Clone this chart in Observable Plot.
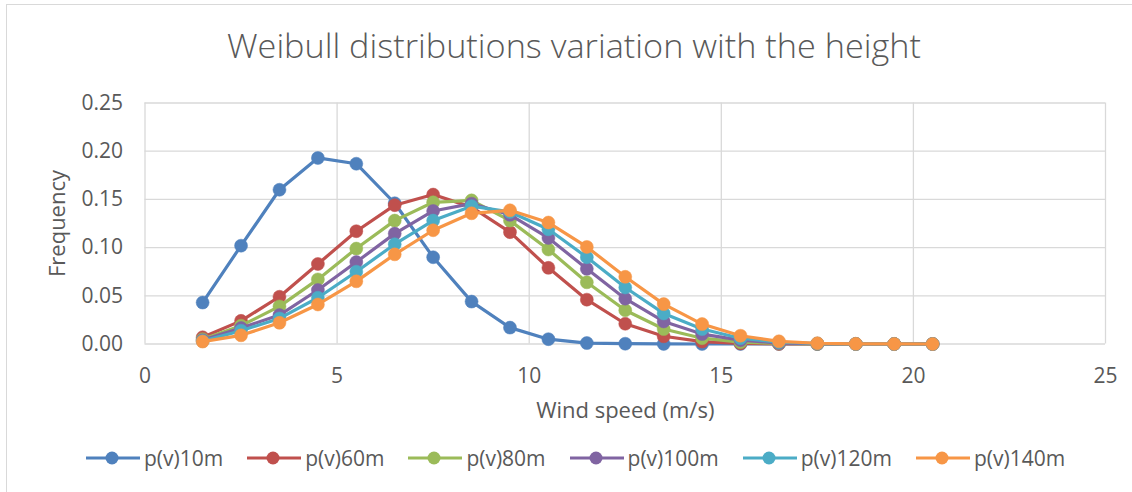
<!DOCTYPE html>
<html>
<head>
<meta charset="utf-8">
<script src="https://cdn.jsdelivr.net/npm/d3@7"></script>
<script src="https://cdn.jsdelivr.net/npm/@observablehq/plot@0.6"></script>
<style>
  html, body { margin: 0; padding: 0; background: #fff; }
  body { width: 1132px; height: 492px; position: relative; overflow: hidden; font-family: "Open Sans", sans-serif; color: #595959; }
  #border { position: absolute; left: 6px; top: 4px; right: -2px; bottom: -2px; border-left: 1px solid #d9d9d9; border-top: 1px solid #d9d9d9; }
  #title { position: absolute; left: 227px; top: 29px; font-size: 33px; font-weight: 300; line-height: 1; white-space: nowrap; transform-origin: 0 0; }
  #chart { position: absolute; left: 0; top: 80px; }
  #legend { position: absolute; left: 86px; top: 446px; height: 24px; display: flex; align-items: center; font-size: 21px; white-space: nowrap; }
  .item { display: flex; align-items: center; margin-right: 24px; }
  .item svg { display: block; margin-right: 4px; }
  .item span { line-height: 24px; }
</style>
</head>
<body>
<div id="border"></div>
<div id="title">Weibull distributions variation with the height</div>
<div id="chart"></div>
<div id="legend"></div>
<script>
const speeds = [1.5, 2.5, 3.5, 4.5, 5.5, 6.5, 7.5, 8.5, 9.5, 10.5, 11.5, 12.5, 13.5, 14.5, 15.5, 16.5, 17.5, 18.5, 19.5, 20.5];
const p10m  = [0.043, 0.102, 0.160, 0.193, 0.187, 0.146, 0.090, 0.044, 0.017, 0.005, 0.001, 0.0003, 0.0001, 0, 0, 0, 0, 0, 0, 0];
const p60m  = [0.007, 0.024, 0.049, 0.083, 0.117, 0.144, 0.155, 0.142, 0.116, 0.079, 0.046, 0.021, 0.008, 0.0025, 0.0006, 0.0001, 0, 0, 0, 0];
const p80m  = [0.005, 0.019, 0.039, 0.067, 0.099, 0.128, 0.147, 0.149, 0.128, 0.098, 0.064, 0.035, 0.0155, 0.006, 0.0019, 0.0005, 0.0001, 0, 0, 0];
const p100m = [0.004, 0.0166, 0.030, 0.056, 0.085, 0.1145, 0.138, 0.1456, 0.134, 0.110, 0.078, 0.047, 0.0234, 0.0103, 0.004, 0.001, 0.0003, 0.0001, 0, 0];
const p120m = [0.003, 0.0138, 0.0265, 0.048, 0.075, 0.1035, 0.128, 0.143, 0.137, 0.119, 0.090, 0.0586, 0.0317, 0.0155, 0.006, 0.0018, 0.0005, 0.0001, 0, 0];
const p140m = [0.0025, 0.009, 0.022, 0.041, 0.065, 0.093, 0.118, 0.1356, 0.1387, 0.126, 0.1007, 0.0697, 0.0414, 0.0207, 0.0086, 0.0028, 0.0008, 0.0002, 0.0001, 0];

const seriesNames = ["p(v)10m", "p(v)60m", "p(v)80m", "p(v)100m", "p(v)120m", "p(v)140m"];
const seriesValues = [p10m, p60m, p80m, p100m, p120m, p140m];
const seriesColors = ["#4F81BD", "#C0504D", "#9BBB59", "#8064A2", "#4BACC6", "#F79646"];

const xTicks = [0, 5, 10, 15, 20, 25];
const yTicks = [0, 0.05, 0.10, 0.15, 0.20, 0.25];
const titleText = "Weibull distributions variation with the height";
const xLabel = "Wind speed (m/s)";
const yLabel = "Frequency";

const rows = seriesNames.map((name, k) => speeds.map((s, i) => ({speed: s, value: seriesValues[k][i], series: name})));

const gridColor = "#d9d9d9";
const seriesMarks = [];
rows.forEach((data, k) => {
  seriesMarks.push(Plot.line(data, {x: "speed", y: "value", stroke: seriesColors[k], strokeWidth: 3.2, strokeLinejoin: "round", strokeLinecap: "round"}));
  seriesMarks.push(Plot.dot(data, {x: "speed", y: "value", r: 6.5, fill: seriesColors[k], stroke: seriesColors[k], strokeWidth: 0.5}));
});

const chart = Plot.plot({
  width: 1132,
  height: 350,
  marginTop: 22.5,
  marginBottom: 86.5,
  marginLeft: 144.5,
  marginRight: 27,
  style: {fontFamily: "Open Sans, sans-serif", fontSize: "21px", color: "#595959", background: "transparent", overflow: "visible"},
  x: {domain: [0, 25]},
  y: {domain: [0, 0.25]},
  marks: [
    Plot.gridY(yTicks, {stroke: gridColor, strokeOpacity: 1, strokeWidth: 1.3}),
    Plot.gridX(xTicks, {stroke: gridColor, strokeOpacity: 1, strokeWidth: 1.3}),
    Plot.axisX(xTicks, {tickSize: 0, tickPadding: 24, label: null, fontSize: 21}),
    Plot.axisY(yTicks, {tickSize: 0, tickPadding: 22, label: null, tickFormat: d3.format(".2f"), fontSize: 21}),
    Plot.text([xLabel], {frameAnchor: "bottom", textAnchor: "middle", dy: 74, fontSize: 22, fill: "#595959"}),
    Plot.text([yLabel], {frameAnchor: "left", textAnchor: "middle", dx: -87, rotate: -90, fontSize: 22, fill: "#595959"}),
    ...seriesMarks
  ]
});
document.getElementById("chart").appendChild(chart);

// title fitted to the reference width
const title = document.getElementById("title");
title.textContent = titleText;
const tw = title.getBoundingClientRect().width;
title.style.transform = `scaleX(${694 / tw})`;

// legend
const legend = document.getElementById("legend");
seriesNames.forEach((name, k) => {
  const item = document.createElement("div");
  item.className = "item";
  const svg = d3.create("svg").attr("width", 54).attr("height", 16);
  svg.append("line").attr("x1", 0).attr("x2", 54).attr("y1", 8).attr("y2", 8).attr("stroke", seriesColors[k]).attr("stroke-width", 3);
  svg.append("circle").attr("cx", 26).attr("cy", 8).attr("r", 6.5).attr("fill", seriesColors[k]);
  item.appendChild(svg.node());
  const span = document.createElement("span");
  span.textContent = name;
  item.appendChild(span);
  legend.appendChild(item);
});
</script>
</body>
</html>
